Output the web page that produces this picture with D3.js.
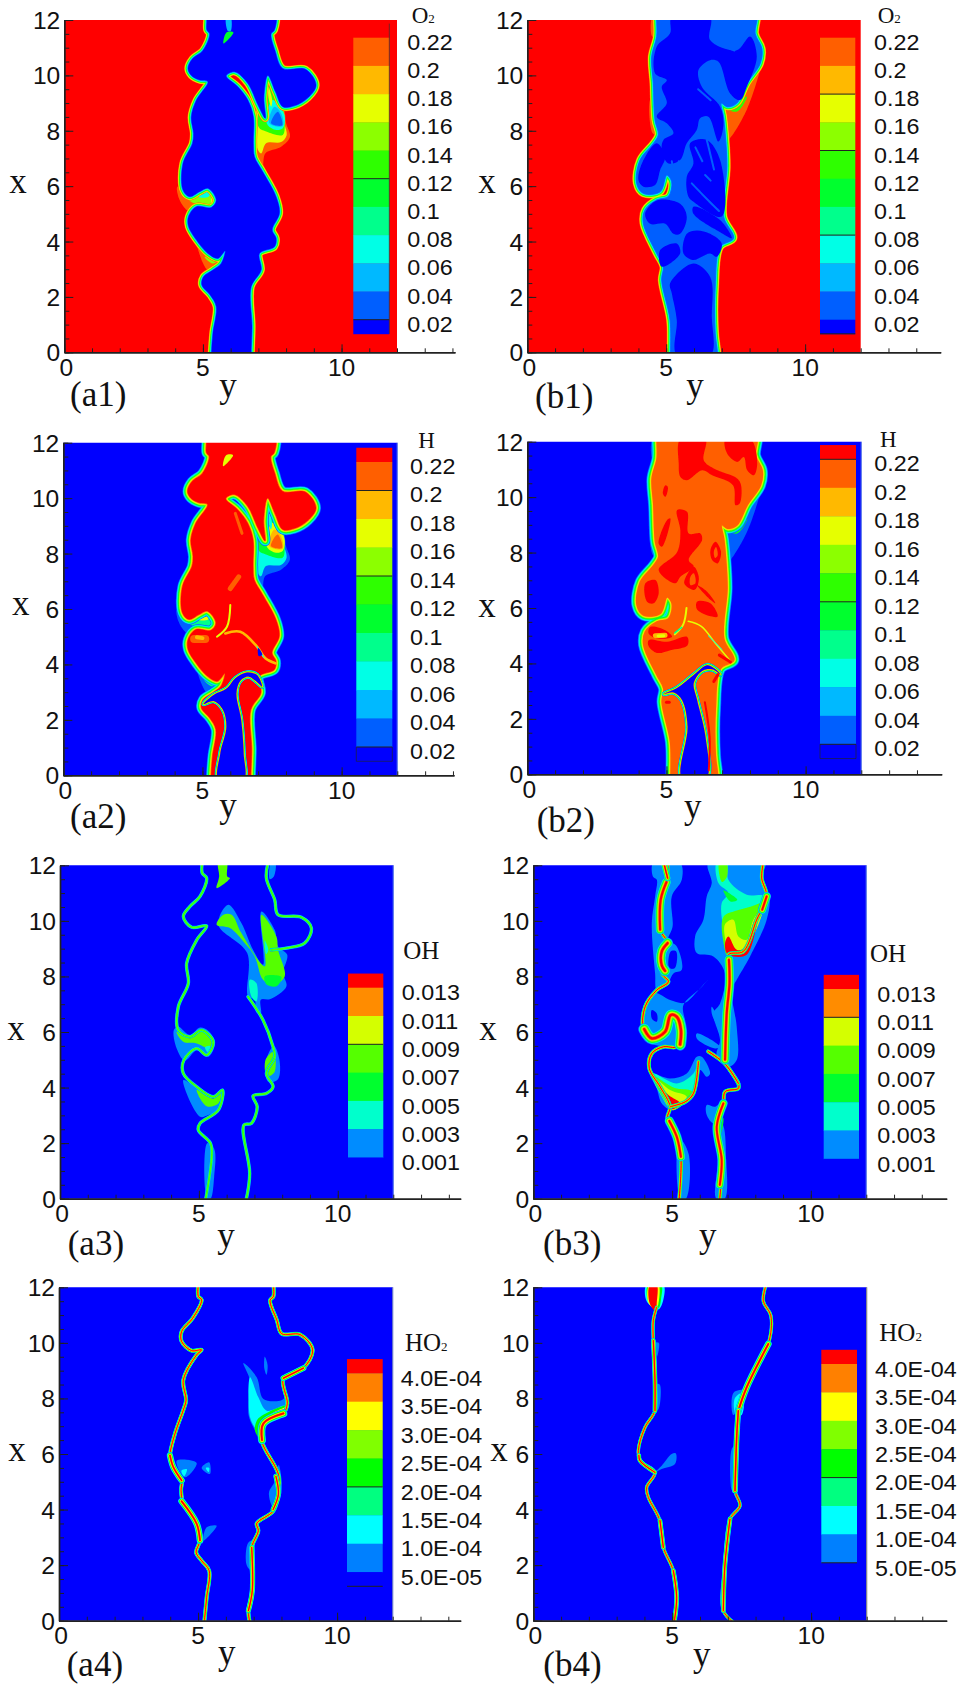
<!DOCTYPE html>
<html><head><meta charset="utf-8">
<script src="https://cdn.jsdelivr.net/npm/d3@7/dist/d3.min.js"></script>
<style>html,body{margin:0;background:#fff}svg{display:block}</style></head>
<body><svg id="c" width="963" height="1684"></svg>
<script>
// colour levels (low to high)
const levels12=['#0000ff','#005fff','#00b9ff','#00ffe6','#00ff8c','#00ff2e','#2eff00','#8cff00','#e6ff00','#ffb900','#ff5f00','#ff0000'];
const levelsOH=['#0000ff','#008cff','#00ffcc','#00ff2e','#55ff00','#d4ff00','#ff8c00','#ff0000'];
const levelsHO2=['#0000ff','#0080ff','#00ffff','#00ff80','#00ff00','#80ff00','#ffff00','#ff8000','#ff0000'];
// legend tick labels
const labelsO2=['0.22','0.2','0.18','0.16','0.14','0.12','0.1','0.08','0.06','0.04','0.02'];
const labelsOH=['0.013','0.011','0.009','0.007','0.005','0.003','0.001'];
const labelsHO2=['4.0E-04','3.5E-04','3.0E-04','2.5E-04','2.0E-04','1.5E-04','1.0E-04','5.0E-05'];
const yMajor=[0,2,4,6,8,10,12], xMajor=[0,5,10];

// flame core outlines [y,x]
const flameA=[[5.31,-.3],[5.31,0],[5.36,.69],[5.48,1.65],[5.26,2.07],[4.96,2.43],[5.02,2.73],[5.36,2.97],[5.66,3.21],[5.8,3.67],[5.54,3.39],[5.18,3.57],[4.76,4.06],[4.48,4.54],[4.48,4.9],[4.76,5.26],[5.3,5.23],[5.48,5.5],[5.18,5.92],[4.88,5.8],[4.52,5.62],[4.28,5.86],[4.28,6.82],[4.62,7.54],[4.66,7.9],[4.58,8.5],[4.76,9.1],[5.18,9.77],[4.88,9.83],[4.58,10],[4.46,10.25],[4.62,10.6],[5,10.9],[5.24,11.5],[5.14,11.64],[5.14,12],[5.14,12.3],[7.58,12.3],[7.58,11.64],[7.46,11.5],[7.6,10.9],[7.88,10.25],[8.7,10.22],[9.08,9.65],[8.8,9.2],[8.3,8.9],[7.88,8.87],[7.62,9.4],[7.34,10],[7.2,9.2],[7.25,8.45],[7,8.9],[6.62,9.71],[6.14,10.13],[5.84,9.98],[6.26,9.59],[6.62,9.11],[6.82,8.5],[6.82,7.55],[6.86,7.06],[7.16,6.52],[7.64,5.62],[7.76,5.02],[7.5,4.42],[7.64,4.12],[7.58,3.81],[7.04,3.57],[7.1,2.97],[6.74,2.37],[6.77,.93],[6.74,0],[6.74,-.3]];
const flameB=[[5.16,-.3],[5.16,0],[5.14,1.17],[4.84,2.61],[4.9,3.09],[4.66,3.57],[4.18,4.66],[4.24,5.14],[4.66,5.5],[5.08,5.62],[5.2,6.16],[5.02,6.4],[4.78,5.8],[4.18,5.74],[3.94,6.1],[4.06,6.94],[4.54,7.54],[4.72,7.85],[4.6,8.39],[4.54,9.71],[4.48,10.67],[4.66,11.4],[4.66,12],[4.66,12.3],[8.2,12.3],[8.2,11.5],[8.44,10.97],[8.38,10.43],[7.9,9.71],[7.54,9],[7.2,8.87],[6.98,9],[7.06,8.5],[7.12,7.9],[7.18,6.7],[7.06,4.9],[7.42,4.12],[6.94,3.81],[6.76,2.37],[6.76,.69],[6.84,0],[6.84,-.3]];
// fuel stem holes for H
const holeA=[[5.58,-.17],[5.64,.79],[5.86,1.75],[5.74,2.36],[5.4,2.68],[5.04,2.57],[5.4,2.9],[5.88,3.14],[6.18,3.5],[6.6,3.71],[6.96,3.62],[7.14,3.2],[6.94,3.38],[6.66,3.56],[6.36,3.41],[6.22,2.96],[6.39,2],[6.48,.79],[6.48,-.17]];
const holeB=[[5.56,-.14],[5.76,1.72],[5.56,2.68],[5.26,2.95],[4.92,2.9],[5.38,3.11],[5.98,3.58],[6.46,3.93],[6.76,3.79],[6.94,3.61],[6.64,3.79],[6.28,3.73],[5.98,3.29],[6.1,2.68],[6.4,1.36],[6.43,-.14]];

// O2 side plumes: [level, outline]
const wispA=[
[10,[[6.86,8.63],[6.94,7.06],[7.15,6.58],[7.25,7.18],[7.82,7.42],[8.14,7.78],[8,8.27],[7.9,8.8],[7.16,9.47]]],
[8,[[6.92,8.63],[6.94,7.42],[7.1,7.18],[7.28,7.55],[7.82,7.59],[8.02,7.84],[7.94,8.27],[7.88,8.8],[7.16,9.47]]],
[6,[[7.28,7.97],[7.88,7.85],[7.95,8.27],[7.88,8.8],[7.5,9.9],[7.34,10],[7,8.15]]],
[3,[[7.34,8.2],[7.64,8.03],[7.88,8.09],[7.94,8.57],[7.52,9.11],[7.28,8.5]]],
[8,[[7.36,9.6],[7.5,9.11],[7.46,8.87],[7.37,9.17]]],
[2,[[7.4,8.27],[7.88,8.17],[7.82,8.63],[7.58,8.87]]],
[1,[[7.46,8.27],[7.86,8.2],[7.7,8.69]]],
[10,[[4.08,5.98],[4.16,5.5],[4.52,5.08],[5.36,5.2],[5.54,5.5],[5.12,5.92],[4.88,5.86],[4.52,5.68]]],
[7,[[4.3,5.75],[4.6,5.42],[5.34,5.32],[5.5,5.5],[5.15,5.85],[4.88,5.75],[4.55,5.6]]],
[3,[[4.85,5.62],[5.2,5.62],[5.3,5.85],[5.1,5.9]]],
[8,[[5.3,5.55],[5.5,5.45],[5.36,5.25]]],
[10,[[4.76,4.06],[5.18,2.97],[5.6,3.21],[5.8,3.67],[5.54,3.39],[5.18,3.57]]],
[7,[[5.06,3.45],[5.36,3.21],[5.72,3.5],[5.36,3.45]]],
[2,[[5.84,12.1],[6.0,12.1],[6,11.6],[5.9,11.6]]],
[5,[[5.74,11.15],[6.1,11.55],[5.85,11.55]]]];
const wispB=[
[10,[[7.18,7.66],[7.9,8.76],[8.44,10.57],[7.9,9.71],[7.12,8.63]]],
[6,[[7.06,8.87],[7.54,8.69],[7.9,9.23],[7.54,9.05]]],
[10,[[4.5,12.1],[4.7,12.1],[4.7,11.4],[4.5,11.4]]],
[10,[[4.45,9.2],[4.52,7.9],[4.72,7.85],[4.65,9.2]]]];
// O2 b1: rich cores and lean stripes
const darkB=[
[[5.38,-.1],[5.38,1.17],[5.2,2.13],[5.14,2.49],[5.98,3.21],[6.58,2.73],[6.64,1.29],[6.6,-.1]],
[[4.24,5],[4.66,5.48],[5.5,5.36],[5.74,4.88],[5.5,4.28],[5.26,4.28],[4.96,4.64],[4.42,4.64]],
[[5.74,4.28],[6.1,4.4],[6.58,4.28],[7,3.92],[6.82,3.45],[6.58,3.57],[6.28,3.45],[5.98,3.33],[5.62,3.57]],
[[4.84,3.09],[5.5,3.57],[5.38,3.93],[4.78,3.69]],
[[5.98,5.26],[6.94,4.78],[7.36,4.12],[7,4.3],[5.98,5]],
[[4,6.22],[4.18,6.94],[4.66,7.55],[4.96,7.06],[4.78,6.58],[4.6,6.04],[4.18,5.98]],
[[5.2,12.1],[6.58,12.1],[6.58,11.28],[7.54,10.91],[8.02,11.4],[8.26,10.67],[7.9,9.59],[7.66,9.11],[7.3,9.35],[6.88,10.49],[6.58,10.55],[6.16,10.19],[6.28,9.59],[6.94,8.87],[7.06,8.21],[6.88,7.61],[6.52,8.51],[6.22,8.45],[6.1,8.03],[5.74,7.55],[5.5,6.94],[5.08,6.82],[4.84,7.3],[4.9,7.67],[5.26,7.91],[5.02,8.27],[4.66,8.51],[5.02,8.99],[4.84,9.59],[5.02,9.83],[4.6,10.07],[4.66,11.04],[5.14,11.52]],
[[5.8,5.62],[5.74,6.34],[5.98,6.82],[5.86,7.55],[6.46,7.67],[6.94,6.94],[7,4.9],[5.98,5.44]]];
const stripesB=[
[[6.7,11.52],[7.05,11.1],[7.46,10.9]],[[6.46,7.67],[6.6,7.1],[6.72,6.6]],[[6.05,7.4],[6.3,6.9]],[[5.92,6.1],[6.4,5.6],[6.9,5.1]],[[6.4,6.4],[6.6,6.2]],[[5.6,6.2],[5.45,6.9]],[[5.2,6.9],[5.35,6.2],[5.65,5.6]],[[6.15,9.5],[6.6,9.1]]];
// H b2: red patches and orange holes inside
const redB=[
[[5.5,12.1],[6.4,12.1],[6.34,11.33],[6.7,11.03],[7.54,10.67],[7.68,10.43],[7.63,9.77],[7.48,9.71],[7.39,10.43],[6.64,10.79],[6.28,10.97],[5.74,10.61],[5.5,10.73],[5.44,11.21]],
[[7.12,12.1],[8.02,12.1],[8.26,11.21],[8.14,10.79],[7.9,10.97],[7.78,11.45],[7.54,11.27],[7.18,11.57]],
[[5.38,9.53],[5.74,9.47],[5.8,8.69],[6.22,8.69],[6.28,8.45],[5.8,7.73],[5.98,7.49],[5.5,7.13],[5.32,6.89],[4.72,7.37],[5.38,8.01],[5.5,8.79]],
[[5.02,9.17],[5.14,9.23],[4.84,8.21],[4.72,8.33]],
[[4.24,6.89],[4.6,7.01],[4.72,6.53],[4.54,6.17],[4.3,6.23]],
[[4.96,10.43],[5.05,10.37],[4.96,10.01],[4.87,10.13]],
[[6.58,8.09],[6.76,8.39],[6.96,8.03],[6.84,7.61],[6.64,7.73]],
[[5.64,6.89],[5.98,7.49],[6.16,7.13],[6.1,6.77],[5.98,6.65]],
[[6.1,6.23],[6.58,6.17],[6.84,5.69],[6.64,5.69],[6.1,5.95]],
[[6.1,6.83],[6.46,6.59],[6.76,6.17],[6.46,6.41]],
[[4.36,4.84],[5.02,4.78],[5.74,4.96],[5.76,4.66],[5.14,4.48],[4.66,4.38],[4.36,4.62]],
[[4.42,5.32],[4.96,5.2],[5.2,4.96],[4.66,4.9],[4.36,5.08]]];
const orangeHolesB=[[[6.7,8.03],[6.78,8.2],[6.84,7.9],[6.75,7.8]],[[5.86,7.13],[5.98,7.25],[6.04,6.89],[5.86,6.83]]];
// thin inner streaks: [level,width,path]
const streaksA=[
[8,2,[[6,6.14],[5.88,5.36],[5.52,5]]],
[9,2.6,[[5.82,5.12],[6.36,5.18],[6.96,4.64],[7.26,4.22],[7.62,4.04]]],
[3,1,[[6.96,4.64],[7.2,4.25]]],
[10,3,[[6.18,9.45],[6.42,8.73]]],
[10,5,[[6,6.74],[6.3,7.16]]],
[10,8,[[4.7,4.92],[5.1,4.92]]],
[9,4,[[4.8,4.98],[5,4.95]]]];
const streaksB=[
[8,1.5,[[5.78,5.52],[6.25,5.34],[6.75,4.74],[7.3,4.08]]],
[3,1,[[6.5,5],[7,4.5]]],
[8,2,[[5.72,6],[5.6,5.4],[5.3,5.05]]],
[4,1.5,[[5.55,5.3],[5.3,5.1]]],
[11,2,[[6.38,2.6],[6.55,1.35],[6.52,.15]]],
[11,3,[[6.7,3.35],[6.85,3.6]]],
[11,3,[[6.9,4.3],[7.3,4.05]]],
[9,5,[[4.6,5],[4.95,5.02]]],
[8,3,[[4.7,4.99],[4.9,5]]],
[11,3,[[5,2.6],[5.1,2.6]]]];

// OH a3
const lineOHa=[[5.25,0],[5.46,1.51],[5.42,1.99],[4.98,2.47],[5.04,2.71],[5.7,3.19],[5.85,3.91],[5.52,3.67],[4.92,4.03],[4.44,4.51],[4.46,4.99],[4.92,5.41],[5.28,5.17],[5.52,5.65],[5.1,6.07],[4.68,5.83],[4.26,6.07],[4.26,6.91],[4.62,7.75],[4.56,8.47],[4.92,9.31],[5.28,9.82],[4.74,9.77],[4.44,10.16],[4.68,10.52],[5.04,10.88],[5.28,11.54],[5.12,11.72],[5.12,12.1]];
const lineOHb=[[7.49,12.1],[7.43,11.54],[7.73,10.76],[7.85,10.22],[8.69,10.13],[9.05,9.74],[8.81,9.2],[8.15,9.02],[7.61,8.96]];
const lineOHc=[[6.77,7.27],[7.31,6.43],[7.67,5.47],[7.73,5.11],[7.43,4.51],[7.67,4.03],[7.43,3.79],[6.95,3.7],[7.1,3.31],[6.89,2.71],[6.62,2.65],[6.83,.91],[6.69,-.1]];
const patchOHa=[
[1,[[6.06,10.58],[6.53,9.92],[6.95,8.96],[7.31,8.42],[7.25,10.34],[7.73,9.68],[7.85,9.08],[8.18,8.78],[8.03,8.12],[8.15,7.64],[7.55,7.18],[7.23,7.16],[7.23,6.67],[7.07,6.7],[7.01,7.16],[6.77,7.28],[6.74,8.84],[5.7,9.86]]],
[4,[[5.64,9.86],[5.88,10.22],[6.18,10.22],[6.53,9.56],[7.37,8.36],[7.25,10.22],[7.79,9.44],[7.85,8.96],[8.09,8],[7.67,7.7],[7.31,7.88],[7.01,8.72],[6.65,9.2],[6.12,9.74]]],
[2,[[6.83,7.88],[7.07,7.76],[7.07,7.1],[6.89,7.28]]],
[3,[[7.37,8.0],[7.97,7.98],[7.8,7.65],[7.43,7.72]]],
[2,[[7.37,9.3],[7.5,8.95],[7.42,8.8]]],
[1,[[4.1,6.07],[4.2,5.41],[4.5,4.97],[4.92,5.33],[5.34,5.11],[5.58,5.62],[5.34,6.04],[5.04,6.16],[4.68,5.89],[4.26,6.19]]],
[4,[[4.2,6.01],[4.44,5.65],[4.92,5.59],[5.4,5.41],[5.52,5.71],[5.1,6.07],[4.68,5.83]]],
[2,[[5.22,5.45],[5.4,5.5],[5.38,5.2]]],
[1,[[4.44,4.27],[5.04,2.95],[5.34,3.01],[5.7,3.19],[5.85,3.91],[5.52,3.61],[5.04,3.91]]],
[4,[[4.92,3.93],[5.28,3.33],[5.7,3.43],[5.85,3.91],[5.52,3.61]]],
[4,[[5.7,12.1],[6,12.1],[6.02,11.6],[6.12,11.54],[5.64,11.18],[5.73,11.6]]],
[1,[[5.3,2],[5.55,1.8],[5.55,.8],[5.42,0],[5.3,0]]],
[1,[[7.6,12.1],[7.75,12.1],[7.7,11.6],[7.55,11.5]]],
[1,[[7.7,5.5],[7.9,5],[7.85,4.3],[7.5,4.2],[7.4,4.9]]],
[4,[[7.4,5],[7.7,5.3],[7.72,4.55],[7.45,4.4]]]];
// OH b3
const lineOHd=[[5.25,-.1],[5.32,1.51],[5.17,2.23],[4.83,2.89],[4.93,3.31],[4.57,4.03],[4.18,4.69],[4.27,5.23],[4.69,5.47],[5.17,5.47],[5.29,6.07],[5.17,6.55],[4.95,6.61],[4.75,6.01],[4.27,5.77],[3.97,6.13],[4.03,6.91],[4.45,7.51],[4.87,7.81],[4.63,8.11],[4.63,8.84],[4.84,9.2],[4.57,9.68],[4.59,10.76],[4.84,11.54],[4.84,12.1]];
const lineOHe=[[8.29,12.1],[8.23,11.54],[8.41,10.88],[8.05,10.04],[7.57,8.9],[7.03,8.78],[7.07,7.76],[6.97,6.67],[6.91,4.99],[7.39,4.15],[7.39,3.97],[6.91,3.85],[6.85,3.43],[6.61,2.59],[6.79,1.39],[6.71,-.1]];
const lineOHf=[[6.3,5.3],[6.91,4.85],[7.39,4.15]];
const lineOHg=[[4.93,3.31],[5.5,3.5],[5.77,3.79],[5.95,4.93]];
const patchOHb=[
[1,[[6.31,12.1],[8.35,12.1],[8.23,11.54],[8.51,10.88],[8.41,10.04],[7.81,8.72],[7.33,7.88],[7.15,7.52],[7.33,6.19],[7.33,4.99],[7.03,4.75],[6.61,5.17],[6.73,5.71],[6.49,6.67],[6.73,7.03],[6.91,8.11],[6.49,8.72],[5.89,8.84],[5.83,9.44],[6.13,10.04],[6.25,10.88],[6.43,11.36]]],
[2,[[6.61,12.1],[6.97,12.1],[7.03,11.48],[7.69,10.94],[8.35,10.88],[8.17,10.04],[7.75,9.32],[7.33,8.84],[7.03,8.72],[6.83,9.8],[6.79,10.64],[7.03,11],[6.67,11.36]]],
[4,[[6.7,12.1],[6.95,12.1],[6.98,11.6],[6.8,11.4]]],
[3,[[6.85,11.1],[7.2,10.9],[7.35,10.75],[7.1,10.7]]],
[4,[[6.85,10.14],[7.33,10.37],[7.85,10.52],[8.29,10.64],[8.05,9.8],[7.69,9.2],[7.21,8.78],[7.03,8.66],[6.85,9.24]]],
[5,[[6.91,9.88],[7.21,10.04],[7.39,9.44],[7.69,9.32],[7.93,10.04],[8.29,10.52],[8.11,9.86],[7.57,8.96],[7.03,8.84],[6.91,9.36]]],
[7,[[6.91,9.2],[7.03,9.44],[7.33,8.96],[7.63,9.02],[7.93,9.92],[8.39,10.84],[8.11,10.04],[7.69,8.78],[7.21,8.72],[6.97,8.84]]],
[1,[[4.33,12.1],[5.29,12.1],[5.35,11.48],[4.99,10.88],[5.02,9.8],[4.87,9.32],[5.17,9.08],[5.35,8.24],[5.05,8.11],[4.87,7.81],[4.45,7.51],[4.39,8.11],[4.27,9.92],[4.39,10.88],[4.45,11.48],[4.31,11.6]]],
[0,[[4.95,8.9],[5.15,8.9],[5.1,8.3],[4.9,8.3]]],
[1,[[3.85,6.07],[4.09,5.65],[5.17,5.41],[5.35,5.35],[5.47,6.31],[5.41,6.97],[6.05,7.6],[6.3,7.9],[5.9,7.45],[5.45,7.05],[4.93,7.15],[4.33,7.4]]],
[0,[[4.27,6.79],[4.45,6.67],[4.45,6.37],[4.27,6.49]]],
[1,[[4.21,4.51],[4.93,4.33],[5.53,4.51],[5.89,5.11],[6.07,5.11],[6.37,4.51],[6.25,4.39],[6.01,4.63],[5.77,3.79],[5.29,3.31],[4.99,3.19],[4.63,3.43],[4.45,3.97]]],
[2,[[4.27,4.51],[5.17,4.15],[5.77,4.51],[5.95,4.93],[5.77,3.79],[5.29,3.31],[4.99,3.19],[4.63,3.67]]],
[4,[[4.33,4.4],[5.1,3.98],[5.65,3.9],[5.75,3.8],[5.29,3.31],[4.99,3.19],[4.65,3.67]]],
[5,[[4.39,4.33],[4.93,3.91],[5.53,3.67],[5.29,3.37],[4.99,3.19],[4.69,3.67]]],
[7,[[4.45,4.21],[4.87,3.73],[5.29,3.43],[4.99,3.22],[4.75,3.67]]],
[1,[[5.89,5.95],[6.73,5.47],[6.55,5.41],[5.89,5.77]]],
[1,[[6.43,6.91],[6.73,6.31],[6.61,6.31],[6.43,6.67]]],
[1,[[6.25,3.37],[6.55,3.31],[6.79,3.49],[6.73,2.83],[6.49,2.71],[6.25,3.01]]],
[1,[[5.25,2.2],[5.6,1.6],[5.5,0],[5.3,0]]],
[1,[[6.9,0],[6.95,1.4],[6.8,2.7],[6.55,2.7],[6.65,1.4],[6.6,0]]],
[3,[[6.75,3.0],[6.55,2.7],[6.7,2.2],[6.85,2.9]]]];
// thick flame-front stretches: [band scale, path]
const thickOHb=[
[2.2,[[5.29,5.55],[5.32,6.07],[5.17,6.55],[4.95,6.61],[4.75,6.01],[4.27,5.77],[4,6.1]]],
[2,[[4.75,8.2],[4.63,8.4],[4.63,8.9],[4.84,9.2]]],
[1.8,[[4.57,9.68],[4.59,10.76],[4.8,11.4]]],
[1.8,[[7.05,8.6],[7.07,7.76],[6.97,6.67],[6.91,5]]],
[1.7,[[5.32,1.51],[5.17,2.23],[4.9,2.8]]],
[1.6,[[6.85,3.43],[6.61,2.59],[6.79,1.39],[6.72,.5]]],
[1.2,[[4.7,12.1],[4.84,11.54]]],
[1.6,[[8.41,10.88],[8.25,10.4]]]];
// HO2 envelopes
const edgeA=[[5.22,-.1],[5.31,.84],[5.4,1.8],[5.13,2.16],[4.93,2.46],[5.07,2.89],[4.95,3.49],[4.47,4.21],[4.39,4.69],[4.41,5.05],[4.11,5.53],[3.99,5.89],[4.17,6.73],[4.47,7.58],[4.57,7.94],[4.47,8.66],[4.95,9.57],[5.13,9.75],[4.77,9.72],[4.41,10.05],[4.41,10.41],[4.81,10.89],[5.13,11.55],[5.01,11.67],[5.01,12.1]];
const edgeA2=[[7.71,12.1],[7.71,11.67],[7.59,11.53],[7.83,10.83],[8.01,10.33],[8.67,10.3],[9.12,9.75],[8.79,9.09],[8.07,8.73],[8.21,7.82],[8.07,7.46],[7.35,7.1],[7.29,6.47],[7.89,5.27],[7.89,4.55],[7.71,3.95],[7.11,3.5],[7.17,3.24],[6.93,2.64],[6.95,1.08],[6.81,.36],[6.87,-.1]];
const edgeB=[[5.08,-.1],[5.16,.84],[5.04,1.8],[4.68,2.64],[4.56,3.6],[4.14,4.44],[4.08,4.8],[4.38,5.34],[3.84,5.76],[3.78,6.12],[4.02,6.96],[4.38,7.56],[4.38,8.64],[4.32,10.08],[4.32,10.8],[4.44,11.28]];
const edgeB2=[[8.38,12.1],[8.28,11.5],[8.55,10.98],[8.46,9.96],[7.68,8.4],[7.38,7.56],[7.32,6.6],[7.26,4.68],[7.44,4.14],[7.08,3.66],[6.9,2.04],[6.84,.36],[7.26,-.1]];
const thickA=[
[1.6,[[3.99,5.95],[4.11,5.53],[4.41,5.05]]],
[1.7,[[4.41,4.3],[4.95,3.49],[5.07,2.89]]],
[1.3,[[6.93,2.64],[6.95,1.08],[6.81,.36]]],
[2,[[7.3,6.5],[7.35,7.1],[8.07,7.46]]],
[1.5,[[8.07,8.73],[8.79,9.09]]],
[1.3,[[7.8,5.2],[7.89,4.55],[7.7,4]]]];
const thickB=[
[1.4,[[4.38,7.56],[4.38,8.64],[4.32,10.08]]],
[1.3,[[3.8,5.95],[3.84,5.76],[4.38,5.34]]],
[1.4,[[4.56,3.6],[4.68,2.64]]],
[1.4,[[5.04,1.8],[5.16,.84],[5.08,0]]],
[2,[[8.46,9.96],[7.68,8.4],[7.38,7.56]]],
[1.7,[[7.38,7.56],[7.32,6.6],[7.26,4.68]]],
[1.4,[[7.08,3.66],[6.9,2.04],[6.84,.36]]]];
const patchA4=[
[1,[[6.63,9.27],[7.11,8.76],[7.35,7.98],[7.95,7.92],[8.19,8.04],[8.19,7.68],[7.35,6.96],[7.29,6.48],[6.99,6.96],[6.81,7.44],[6.87,8.64]]],
[2,[[6.87,8.76],[7.17,8.04],[7.47,7.56],[8.13,7.74],[8.13,7.56],[7.35,7.08],[7.29,6.54],[7.11,6.84],[6.87,7.32]]],
[4,[[7.11,7.2],[7.29,7.38],[8.19,7.74],[8.13,7.5],[7.35,6.96],[7.29,6.48],[7.05,6.84]]],
[6,[[7.29,7.2],[8.2,7.68],[8.07,7.44],[7.41,7.02],[7.29,6.54],[7.17,6.78]]],
[1,[[7.4,9.5],[7.5,9.2],[7.46,8.85],[7.38,9.1]]],
[1,[[5.13,5.5],[5.4,5.7],[5.43,5.28]]],
[2,[[5.28,5.5],[5.4,5.5],[5.38,5.35]]],
[1,[[4.23,5.76],[4.95,5.68],[4.53,5.16]]],
[2,[[4.4,5.4],[4.6,5.45],[4.5,5.2]]],
[1,[[5.31,3.36],[5.67,3.42],[5.19,2.88]]],
[1,[[6.8,2.8],[6.75,2],[6.95,1.8],[7,2.9]]],
[1,[[7.9,5.6],[8,4.6],[7.7,4.1],[7.55,4.6],[7.75,5]]]];
const patchB4=[
[2,[[4.08,12.1],[4.68,12.1],[4.68,11.55],[4.5,11.2],[4.08,11.5]]],
[4,[[4.14,12.1],[4.6,12.1],[4.6,11.6],[4.5,11.25],[4.14,11.5]]],
[6,[[4.18,12.1],[4.5,12.1],[4.5,11.4],[4.42,11.2],[4.14,11.45]]],
[8,[[4.2,12.1],[4.44,12.1],[4.44,11.4],[4.42,11.1],[4.18,11.45]]],
[1,[[4.38,5.34],[4.62,5.58],[4.98,6],[5.13,6.02],[5.1,5.64],[4.62,5.46]]],
[1,[[7.2,8.2],[7.68,8.4],[8.2,9.5],[8.46,9.96],[7.6,8.1],[7.2,7.4]]],
[1,[[4.4,8.5],[4.55,8.5],[4.5,7.6],[4.4,7.6]]],
[1,[[7.15,6.2],[7.3,6.3],[7.3,5],[7.15,4.7]]],
[2,[[7.25,8],[7.55,8.2],[7.5,7.4],[7.3,7.4]]],
[1,[[4.38,10],[4.52,10],[4.45,9.5]]]];

const fontSans='"Liberation Sans",Arial,sans-serif', fontSerif='"Liberation Serif","Times New Roman",serif';
const svg=d3.select('#c');
const defs=svg.append('defs');
defs.append('filter').attr('id','soft').attr('x','-5%').attr('y','-5%').attr('width','110%').attr('height','110%')
  .append('feGaussianBlur').attr('stdDeviation',0.6);
const c12=k=>levels12[k];

function tx(g,x,y,s,o={}){
  return g.append('text').attr('transform',`translate(${x},${y}) scale(${o.sx||1},1)`)
    .attr('text-anchor',o.anchor||'start').attr('font-family',o.font||fontSans)
    .attr('font-size',o.size||20).attr('fill','#111').text(s);
}
function edgeBandsO2(w){ // outer orange to inner light blue
  const cols=levels12.slice(1,11).reverse();
  return cols.map((c,i)=>[c,w*(cols.length-i)/cols.length]);
}
function edgeBandsH(w){ // outer mid-blue to inner orange
  const cols=levels12.slice(1,11);
  return cols.map((c,i)=>[c,w*(cols.length-i)/cols.length]);
}
function bandsOf(cols,w,k=1){
  const cs=cols.slice(1);
  return cs.map((c,i)=>[c,w*k*(cs.length-i)/cs.length+.45*k]);
}
function drawA1(x){
  x.bg('#ff0000');
  wispA.forEach(([l,p])=>x.area(p,c12(l)));
  x.ring(flameA,edgeBandsO2(7.5));
  x.area(flameA,'#0000ff');
  wispA.slice(-2).forEach(([l,p])=>x.area(p,c12(l)));
}
function drawA2(x){
  x.bg('#0000ff');
  wispA.forEach(([l,p])=>x.area(p,c12(11-l)));
  x.ring(flameA,edgeBandsH(10));
  x.area(flameA,'#ff0000');
  x.area([[5.74,11.15],[6.1,11.55],[5.85,11.55]],c12(8));
  x.ring(holeA,edgeBandsH(4.5));
  x.area(holeA,'#0000ff');
  streaksA.forEach(([l,w,p])=>x.line(p,c12(l),w));
  x.area([[7,4.6],[7.15,4.35],[7.02,4.3]],'#0000ff');
}
function drawB1(x){
  x.bg('#ff0000');
  wispB.forEach(([l,p])=>x.area(p,c12(l)));
  x.ring(flameB,edgeBandsO2(8));
  x.area(flameB,'#005fff');
  darkB.forEach(p=>x.area(p,'#0000ff'));
  stripesB.forEach(p=>x.line(p,'#005fff',2));
}
function drawB2(x){
  x.bg('#0000ff');
  wispB.forEach(([l,p])=>x.area(p,c12(11-l)));
  x.ring(flameB,edgeBandsH(11));
  x.area(flameB,'#ff5f00');
  redB.forEach(p=>x.area(p,'#ff0000'));
  orangeHolesB.forEach(p=>x.area(p,'#ff5f00'));
  x.ring(holeB,edgeBandsH(5));
  x.area(holeB,'#0000ff');
  streaksB.forEach(([l,w,p])=>x.line(p,c12(l),w));
}
function drawA3(x){
  x.bg('#0000ff');
  patchOHa.forEach(([l,p])=>x.area(p,levelsOH[l]));
  const b=bandsOf(levelsOH.slice(0,5),3);
  [lineOHa,lineOHb,lineOHc].forEach(p=>x.ridge(p,b));
}
function drawB3(x){
  x.bg('#0000ff');
  patchOHb.forEach(([l,p])=>x.area(p,levelsOH[l]));
  const b=bandsOf(levelsOH,3.6);
  [lineOHd,lineOHe,lineOHf,lineOHg].forEach(p=>x.ridge(p,b));
  thickOHb.forEach(([k,p])=>x.ridge(p,bandsOf(levelsOH,5,k)));
}
function drawA4(x){
  x.bg('#0000ff');
  patchA4.forEach(([l,p])=>x.area(p,levelsHO2[l]));
  const b=bandsOf(levelsHO2,3.6);
  [edgeA,edgeA2].forEach(p=>x.ridge(p,b));
  thickA.forEach(([k,p])=>x.ridge(p,bandsOf(levelsHO2,3.6,k)));
}
function drawB4(x){
  x.bg('#0000ff');
  patchB4.forEach(([l,p])=>x.area(p,levelsHO2[l]));
  const b=bandsOf(levelsHO2,3);
  [edgeB,edgeB2].forEach(p=>x.ridge(p,b));
  thickB.forEach(([k,p])=>x.ridge(p,bandsOf(levelsHO2,3,k)));
}
function drawLegend(root,p){
  const L=p.leg, n=L.cols.length;
  const bandY=d3.scaleLinear([0,n-2],[L.y0,L.y0+L.h*(n-2)]);
  const colsTop=L.cols.slice().reverse();
  const g=root.append('g');
  colsTop.forEach((c,i)=>{
    const y=i==0?L.y0-L.h/2:bandY(i-1), h=(i==0||i==n-1)?L.h/2:L.h;
    g.append('rect').attr('x',L.x).attr('y',y).attr('width',L.w).attr('height',h+.4).attr('fill',c);
  });
  L.lines.forEach(k=>g.append('line').attr('x1',L.x).attr('x2',L.x+L.w).attr('y1',bandY(k)).attr('y2',bandY(k)).attr('stroke','#222').attr('stroke-width',1));
  if(L.rim) g.append('line').attr('x1',L.x+L.w).attr('x2',L.x+L.w).attr('y1',L.y0-L.h/2).attr('y2',bandY(n-2)+L.h/2).attr('stroke','#333').attr('stroke-width',.7);
  if(L.box) g.append('path').attr('d',`M${L.x},${bandY(n-2)}V${bandY(n-2)+L.h/2}H${L.x+L.w}V${bandY(n-2)}`).attr('fill','none').attr('stroke','#223').attr('stroke-width',.7);
  L.labels.forEach((s,i)=>tx(root,L.lx,bandY(i)+L.off+8,s,{size:22,sx:1.06}));
  const t=tx(root,L.tx,L.ty,L.title,{size:L.tsize,font:fontSerif});
  if(L.sub) t.append('tspan').attr('font-size',13).text(L.sub);
}

const panels=[
{tag:'(a1)',x0:64.3,x1:397,end:455,top:20,bot:352.3,draw:drawA1,
 leg:{cols:levels12,labels:labelsO2,x:353.3,w:36,y0:37.7,h:28.2,lx:407.3,off:4,title:'O',sub:'2',tx:411.7,ty:23,tsize:23,lines:[5,10],rim:true},
 xl:[18,193],yl:[228,397],tg:[70,406],edge:null},
{tag:'(b1)',x0:527.3,x1:860.7,end:940.7,top:20,bot:352.3,draw:drawB1,
 leg:{cols:levels12,labels:labelsO2,x:820,w:35.3,y0:37.7,h:28.2,lx:874,off:4,title:'O',sub:'2',tx:877.7,ty:23,tsize:23,lines:[2,4,7,10.5]},
 xl:[487,193],yl:[695,397],tg:[535,408],edge:null},
{tag:'(a2)',x0:63.3,x1:397.3,end:454,top:442.7,bot:775.3,draw:drawA2,
 leg:{cols:levels12,labels:labelsO2,x:356.3,w:36,y0:462,h:28.5,lx:410,off:3.7,title:'H',tx:418.3,ty:448.3,tsize:23,lines:[1,4,10],box:true},
 xl:[20.7,615],yl:[228,816.7],tg:[70,828],edge:'#5f7dea'},
{tag:'(b2)',x0:527.3,x1:861.3,end:941.7,top:441.7,bot:774.3,draw:drawB2,
 leg:{cols:levels12,labels:labelsO2,x:820,w:36,y0:459.3,h:28.5,lx:874.3,off:4,title:'H',tx:880,ty:447.3,tsize:23,lines:[0,5,10],box:true},
 xl:[487,616.7],yl:[692.7,818],tg:[536.7,831.7],edge:'#5f7dea'},
{tag:'(a3)',x0:60,x1:393.3,end:460.7,top:865.3,bot:1198.7,draw:drawA3,
 leg:{cols:levelsOH,labels:labelsOH,x:348,w:35.3,y0:987.7,h:28.3,lx:401.7,off:4.7,title:'OH',tx:403.3,ty:959,tsize:25,lines:[2]},
 xl:[16,1040],yl:[226,1246.7],tg:[67.7,1255],edge:'#5f7dea'},
{tag:'(b3)',x0:533.3,x1:866.3,end:946.7,top:865.3,bot:1198.7,draw:drawB3,
 leg:{cols:levelsOH,labels:labelsOH,x:823.7,w:35.3,y0:989,h:28.3,lx:877.3,off:4.7,title:'OH',tx:870,ty:961.7,tsize:25,lines:[1]},
 xl:[488,1040],yl:[707.7,1247],tg:[543,1255],edge:'#5f7dea'},
{tag:'(a4)',x0:59,x1:392.7,end:460.7,top:1287.3,bot:1620.7,draw:drawA4,
 leg:{cols:levelsHO2,labels:labelsHO2,x:347,w:35.7,y0:1373.3,h:28.4,lx:400.7,off:4.7,title:'HO',sub:'2',tx:405,ty:1350.7,tsize:25,lines:[4,7.5]},
 xl:[17,1461],yl:[226.7,1664],tg:[66.7,1675.7],edge:'#6a78c8'},
{tag:'(b4)',x0:533.3,x1:866.7,end:946.7,top:1287.3,bot:1620.7,draw:drawB4,
 leg:{cols:levelsHO2,labels:labelsHO2,x:821.3,w:35.7,y0:1364,h:28.4,lx:875,off:4.7,title:'HO',sub:'2',tx:879.3,ty:1341.3,tsize:25,lines:[4,7]},
 xl:[499,1460.7],yl:[701.7,1665.7],tg:[543.3,1675.7],edge:'#888'}
];

panels.forEach((p,i)=>{
  const sx=d3.scaleLinear([0,12],[p.x0,p.x1]), sy=d3.scaleLinear([0,12],[p.bot,p.top]);
  const closed=d3.line().x(d=>sx(d[0])).y(d=>sy(d[1])).curve(d3.curveCatmullRomClosed.alpha(.5));
  const open=d3.line().x(d=>sx(d[0])).y(d=>sy(d[1])).curve(d3.curveCatmullRom.alpha(.5));
  const id='clip'+i;
  defs.append('clipPath').attr('id',id).append('rect').attr('x',p.x0).attr('y',p.top).attr('width',p.x1-p.x0).attr('height',p.bot-p.top);
  const root=svg.append('g');
  const clipG=root.append('g').attr('clip-path',`url(#${id})`);
  const f=clipG.append('g').attr('filter','url(#soft)');
  const ctx={
    bg:c=>f.append('rect').attr('x',p.x0-8).attr('y',p.top-8).attr('width',p.x1-p.x0+16).attr('height',p.bot-p.top+16).attr('fill',c),
    area:(pts,c)=>f.append('path').attr('d',closed(pts)).attr('fill',c),
    ring:(pts,bands)=>bands.forEach(b=>f.append('path').attr('d',closed(pts)).attr('fill','none').attr('stroke',b[0]).attr('stroke-width',b[1]).attr('stroke-linejoin','round')),
    ridge:(pts,bands)=>bands.forEach(b=>f.append('path').attr('d',open(pts)).attr('fill','none').attr('stroke',b[0]).attr('stroke-width',b[1]).attr('stroke-linejoin','round').attr('stroke-linecap','round')),
    line:(pts,c,w)=>f.append('path').attr('d',open(pts)).attr('fill','none').attr('stroke',c).attr('stroke-width',w).attr('stroke-linecap','round')
  };
  p.draw(ctx);
  if(p.edge) root.append('line').attr('x1',p.x1).attr('x2',p.x1).attr('y1',p.top).attr('y2',p.bot).attr('stroke',p.edge).attr('stroke-width',1.2);
  drawLegend(root,p);
  const axX=d3.scaleLinear([0,sx.invert(p.end)],[p.x0,p.end]);
  const xMinor=d3.range(0,Math.floor(sx.invert(p.end))+1);
  const styl=a=>{a.selectAll('path.domain').attr('stroke','#222').attr('stroke-width',1.4);a.selectAll('line').attr('stroke','#222').attr('stroke-width',1);a.selectAll('text').remove();};
  root.append('g').attr('transform',`translate(0,${p.bot})`).call(d3.axisBottom(axX).tickValues(xMinor).tickSize(-4).tickSizeOuter(0)).call(styl);
  root.append('g').attr('transform',`translate(0,${p.bot})`).call(d3.axisBottom(axX).tickValues(xMajor).tickSize(-8).tickSizeOuter(0)).call(styl);
  root.append('g').attr('transform',`translate(${p.x0},0)`).call(d3.axisLeft(sy).tickValues(d3.range(0,12.5,.5)).tickSize(-5).tickSizeOuter(0)).call(styl);
  root.append('g').attr('transform',`translate(${p.x0},0)`).call(d3.axisLeft(sy).tickValues(yMajor).tickSize(-9).tickSizeOuter(0)).call(styl);
  xMajor.forEach(v=>tx(root,sx(v)+(v?0:2),p.bot+23.5,v,{anchor:'middle',size:23,sx:1.07}));
  yMajor.forEach(v=>tx(root,p.x0-4,sy(v)+9,v,{anchor:'end',size:23,sx:1.07}));
  tx(root,p.xl[0],p.xl[1],'x',{anchor:'middle',size:35,font:fontSerif});
  tx(root,p.yl[0],p.yl[1],'y',{anchor:'middle',size:35,font:fontSerif});
  tx(root,p.tg[0],p.tg[1],p.tag,{size:35,font:fontSerif});
});
</script></body></html>
